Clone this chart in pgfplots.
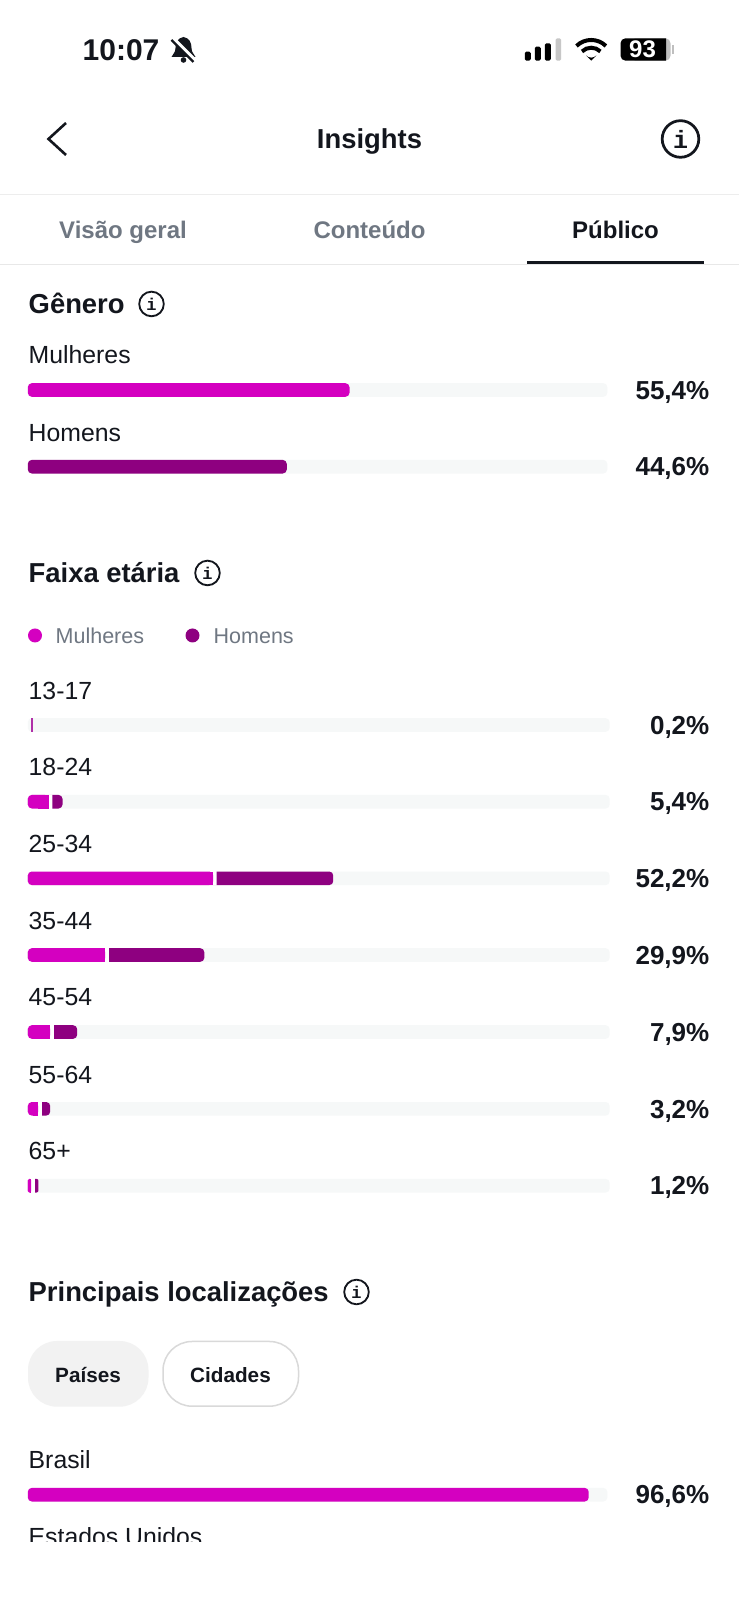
\documentclass[border=0pt]{standalone}
\usepackage{pgfplots}
\usepackage{pgfplotstable}
\pgfplotsset{compat=1.18}
\usepackage{fontspec}
\setmainfont{Liberation Sans}
\newfontfamily\monof{Liberation Mono}
\usetikzlibrary{calc}
\definecolor{mag}{HTML}{D400C0}
\definecolor{pur}{HTML}{8E0080}
\definecolor{trk}{HTML}{F6F8F8}
\definecolor{ink}{HTML}{13161D}
\definecolor{gry}{HTML}{6F7782}
\definecolor{sliv}{HTML}{B030A8}
% gender: y position, track, share
\pgfplotstableread{
y track value
390 99.8 55.4
}\genderW
\pgfplotstableread{
y track value
466.7 99.8 44.6
}\genderM
% age: women end, men start, men end (percent of the track length)
\pgfplotstableread{
y track women menstart total
801.7 100.2 3.62 4.25 5.98
878.3 100.2 31.93 32.50 52.60
955.0 100.2 13.33 13.95 30.40
1032.0 100.2 3.86 4.48 8.50
1108.8 100.2 1.79 2.41 3.86
}\age
\pgfplotstableread{
y track women menstart total
1185.7 100.2 0.58 1.20 1.84
}\agesmall
\pgfplotstableread{
y track
725 100.2
}\agetrack
% square right ends of the women's segments
\pgfplotstableread{
x y
1.81 801.7
3.62 801.7
nan nan
15.9 878.3
31.93 878.3
nan nan
6.6 955.0
13.33 955.0
nan nan
1.93 1032.0
3.86 1032.0
nan nan
0.9 1108.8
1.79 1108.8
nan nan
0.3 1185.7
0.58 1185.7
}\squares
\pgfplotstableread{
x y
0.58 725
0.84 725
}\sliver
\pgfplotstableread{
y track value
1494.7 99.8 96.6
}\country
\newcommand{\T}[4][ink]{\node[anchor=base west,inner sep=0pt,text=#1,font=#2] at (#3) {#4};}
\newcommand{\R}[2]{\node[anchor=base east,inner sep=0pt,text=ink,font=\fontsize{26}{26}\selectfont\bfseries] at (709,#1) {#2};}
\newcommand{\C}[4][ink]{\node[anchor=base,inner sep=0pt,text=#1,font=#2] at (#3) {#4};}
\newcommand{\info}[3]{\draw[ink,line width=#3*0.15pt] (#1) circle (#3);
  \node[inner sep=0pt,text=ink,font=\fontsize{#2}{#2}\selectfont\monof\bfseries] at (#1) {i};}
\begin{document}
\begin{tikzpicture}
\fill[white] (0,0) rectangle (738pt,1600pt);
\begin{axis}[at={(0pt,0pt)},anchor=south west,width=738pt,height=1600pt,scale only axis,hide axis,
  xmin=-4.701,xmax=122.39,ymin=0,ymax=1600,y dir=reverse,
  xbar,bar shift=0pt,bar width=13.6pt,clip=false,
  unbounded coords=jump]
\addplot[fill=trk,draw=none,rounded corners=4pt] table[x=track,y=y] {\genderW};
\addplot[fill=trk,draw=none,rounded corners=4pt] table[x=track,y=y] {\genderM};
\addplot[fill=trk,draw=none,rounded corners=4pt] table[x=track,y=y] {\age};
\addplot[fill=trk,draw=none,rounded corners=4pt] table[x=track,y=y] {\agesmall};
\addplot[fill=trk,draw=none,rounded corners=4pt] table[x=track,y=y] {\agetrack};
\addplot[fill=trk,draw=none,rounded corners=4pt] table[x=track,y=y] {\country};
\addplot[fill=mag,draw=none,rounded corners=4pt] table[x=value,y=y] {\genderW};
\addplot[fill=pur,draw=none,rounded corners=4pt] table[x=value,y=y] {\genderM};
\addplot[fill=mag,draw=none,rounded corners=4pt] table[x=value,y=y] {\country};
\addplot[fill=pur,draw=none,rounded corners=4pt] table[x=total,y=y] {\age};
\addplot[fill=pur,draw=none,rounded corners=2pt] table[x=total,y=y] {\agesmall};
\addplot[fill=white,draw=none,bar width=14.6pt] table[x=menstart,y=y] {\age};
\addplot[fill=white,draw=none,bar width=14.6pt] table[x=menstart,y=y] {\agesmall};
\addplot[fill=mag,draw=none,rounded corners=4pt] table[x=women,y=y] {\age};
\addplot[fill=mag,draw=none,rounded corners=1.4pt] table[x=women,y=y] {\agesmall};
\addplot[sharp plot,fill=none,draw=mag,line width=13.6pt,line cap=butt,mark=none] table[x=x,y=y] {\squares};
\addplot[sharp plot,fill=none,draw=sliv,line width=13.6pt,line cap=butt,mark=none] table[x=x,y=y] {\sliver};
\end{axis}
\begin{scope}[yshift=1600pt,x=1pt,y=-1pt]
% status bar
\T{\fontsize{30}{30}\selectfont\bfseries}{82,61}{10:07}
\fill[ink] (183,37) .. controls (177,38) and (175,43) .. (175,48) .. controls (175,53) and (172,54) .. (171,57) -- (195,57) .. controls (194,54) and (191,53) .. (191,48) .. controls (191,43) and (189,38) .. (183,37) -- cycle;
\fill[ink] (183,60) circle (2.8);
\draw[white,line width=4.2pt] (172,38) -- (197,63);
\draw[ink,line width=2.2pt] (171,40) -- (193,62);
\foreach \a/\b/\c/\d/\e in {524.3/530.3/51.7/ink/x,534.3/540.3/46.7/ink/x,544.3/550.3/43.3/ink/x}
  \fill[black,rounded corners=1.5pt] (\a,\c) rectangle (\b,60.7);
\fill[black!22,rounded corners=1.5pt] (555,38.3) rectangle (560.7,60.7);
\fill[black] (590.7,60.7) -- (585.5,55.5) arc[start angle=225,end angle=315,radius=7.3,y radius=-7.3] -- cycle;
\draw[black,line width=4pt] (581.5,51.5) .. controls (586.5,46.5) and (594.9,46.5) .. (599.9,51.5);
\draw[black,line width=4pt] (576,46) .. controls (584,38) and (597.4,38) .. (605.4,46);
\fill[black!25,rounded corners=5pt] (630,38.3) rectangle (670,60.7);
\begin{scope}
\clip (615,30) rectangle (665.5,70);
\fill[black,rounded corners=5pt] (620,38.3) rectangle (670,60.7);
\end{scope}
\fill[black!25] (671.5,45) rectangle (673,54);
\node[text=white,inner sep=0pt,font=\fontsize{24}{24}\selectfont\bfseries] at (642,49.7) {93};
% header
\draw[ink,line width=2.6pt,line join=miter] (65.5,123) -- (48,139) -- (65.5,155);
\C{\fontsize{27.4}{27.4}\selectfont\bfseries}{369,148.5}{Insights}
\info{680,139}{25}{18.3}
\draw[black!7,line width=1pt] (0,194.3) -- (738,194.3);
\C[gry]{\fontsize{24}{24}\selectfont\bfseries}{122.5,238.5}{Visão geral}
\C[gry]{\fontsize{24}{24}\selectfont\bfseries}{369,238.5}{Conteúdo}
\C{\fontsize{24}{24}\selectfont\bfseries}{615,238.5}{Público}
\draw[black!9,line width=1pt] (0,264.8) -- (738,264.8);
\fill[ink] (526,261) rectangle (703.5,264.5);
% gender
\T{\fontsize{27.4}{27.4}\selectfont\bfseries}{28,314}{Gênero}
\info{151,304}{17}{12.3}
\T{\fontsize{24.8}{24.8}\selectfont}{28,364}{Mulheres}
\T{\fontsize{24.8}{24.8}\selectfont}{28,441.5}{Homens}
\R{399.3}{55,4\%}
\R{476}{44,6\%}
% age
\T{\fontsize{27.4}{27.4}\selectfont\bfseries}{28,583}{Faixa etária}
\info{207,573}{17}{12.3}
\fill[mag] (34.5,635.5) circle (7);
\fill[pur] (192,635.5) circle (7);
\T[gry]{\fontsize{21.5}{21.5}\selectfont}{55,644}{Mulheres}
\T[gry]{\fontsize{21.5}{21.5}\selectfont}{213,644}{Homens}
\foreach \lab/\by in {13-17/699.3,18-24/776,25-34/852.6,35-44/929.3,45-54/1006,55-64/1083.6,65+/1160}
  \T{\fontsize{24.8}{24.8}\selectfont}{28,\by}{\lab};
\R{734.5}{0,2\%}
\R{811}{5,4\%}
\R{887.6}{52,2\%}
\R{964.4}{29,9\%}
\R{1041.3}{7,9\%}
\R{1118.2}{3,2\%}
\R{1195}{1,2\%}
% locations
\T{\fontsize{27.4}{27.4}\selectfont\bfseries}{28,1302}{Principais localizações}
\info{356,1292}{17}{12.3}
\fill[black!5,rounded corners=29pt] (27.5,1341) rectangle (148,1406.7);
\draw[black!15,line width=1.5pt,rounded corners=29pt] (162.5,1341.5) rectangle (298,1406.2);
\C{\fontsize{20.7}{20.7}\selectfont\bfseries}{87.5,1382.5}{Países}
\C{\fontsize{20.7}{20.7}\selectfont\bfseries}{230,1382.5}{Cidades}
\T{\fontsize{24.8}{24.8}\selectfont}{28,1469}{Brasil}
\R{1503.7}{96,6\%}
\begin{scope}
\clip (0,1500) rectangle (738,1541.7);
\T{\fontsize{24.8}{24.8}\selectfont}{28,1546}{Estados Unidos}
\end{scope}
\end{scope}
\end{tikzpicture}
\end{document}
